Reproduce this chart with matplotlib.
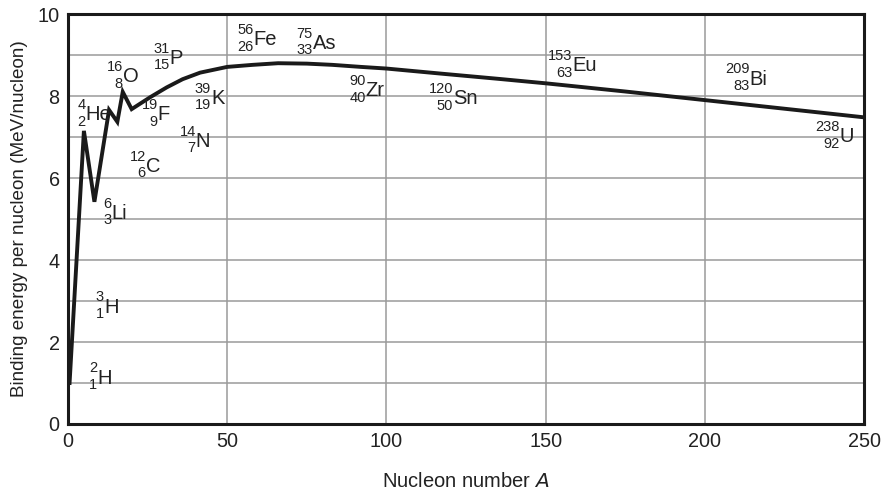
import matplotlib
matplotlib.use("Agg")
import matplotlib.pyplot as plt

# binding energy curve
mass_number = [0.5, 5, 8.3, 12.9, 15.5, 17.2, 20, 25.8, 31, 36, 41.5, 50, 58, 66,
               75, 83, 92, 100, 118, 135, 150, 175, 200, 225, 250]
binding_energy = [1.0, 7.15, 5.42, 7.66, 7.37, 8.1, 7.68, 7.97, 8.21, 8.41, 8.57, 8.71,
                  8.76, 8.80, 8.79, 8.76, 8.71, 8.67, 8.54, 8.42, 8.31, 8.11, 7.90, 7.69, 7.48]

# nuclide labels: symbol, A, Z, label position (x, y)
symbols = ["H", "H", "Li", "He", "O", "F", "C", "N", "K", "P",
           "Fe", "As", "Zr", "Sn", "Eu", "Bi", "U"]
label_a = ["2", "3", "6", "4", "16", "19", "12", "14", "39", "31",
           "56", "75", "90", "120", "153", "209", "238"]
label_z = ["1", "1", "3", "2", "8", "9", "6", "7", "19", "15",
           "26", "33", "40", "50", "63", "83", "92"]
label_x = [9.2, 11.3, 13.7, 5.5, 17.2, 28.2, 24.4, 40.1, 44.9, 32.0,
           58.2, 76.8, 93.5, 121.0, 158.4, 214.0, 242.2]
label_y = [1.12, 2.85, 5.14, 7.54, 8.47, 7.54, 6.28, 6.89, 7.94, 8.92,
           9.37, 9.28, 8.13, 7.93, 8.74, 8.41, 7.01]

plt.rcParams['font.family'] = ['Liberation Sans', 'DejaVu Sans']
txt = '#222222'

fig = plt.figure(figsize=(8.84, 4.9), dpi=100)
ax = fig.add_axes([0.0769, 0.1347, 0.9005, 0.8367])

ax.plot(mass_number, binding_energy, color='#1a1a1a', lw=2.8,
        solid_joinstyle='miter', zorder=3)

for sym, a, z, x, y in zip(symbols, label_a, label_z, label_x, label_y):
    ax.text(x, y, sym, fontsize=14.5, color=txt, ha='left', va='center', zorder=4)
    ax.annotate(a, (x, y), xytext=(0, 7), textcoords='offset points',
                fontsize=10.5, color=txt, ha='right', va='center', zorder=4)
    ax.annotate(z, (x, y), xytext=(0, -5), textcoords='offset points',
                fontsize=10.5, color=txt, ha='right', va='center', zorder=4)

ax.set_xlim(0, 250)
ax.set_ylim(0, 10)
ax.set_xticks([0, 50, 100, 150, 200, 250])
ax.set_yticks([0, 2, 4, 6, 8, 10])
ax.set_yticks(range(0, 11), minor=True)
ax.grid(True, which='both', axis='y', color='#9a9a9a', lw=1.1)
ax.grid(True, which='major', axis='x', color='#9a9a9a', lw=1.1)
ax.set_axisbelow(True)
ax.tick_params(which='both', length=0, labelsize=14.3, labelcolor=txt, pad=6)

for s in ax.spines.values():
    s.set_linewidth(2.2)
    s.set_color('#1a1a1a')

ax.set_xlabel('Nucleon number $\\it{A}$', fontsize=14.5, color=txt, labelpad=15)
ax.set_ylabel('Binding energy per nucleon (MeV/nucleon)', fontsize=13.6, color=txt, labelpad=7)

fig.savefig('out.png', dpi=100)
